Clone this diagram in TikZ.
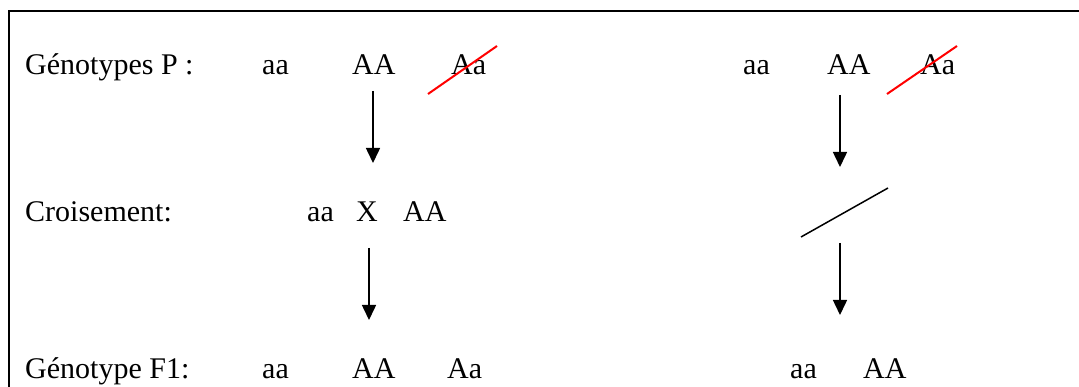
\documentclass[tikz,border=0pt]{standalone}
\usepackage{fontspec}
\setmainfont{Liberation Serif}
\usetikzlibrary{arrows.meta}
\begin{document}
\begin{tikzpicture}[x=1pt,y=-1pt,
  txt/.style={anchor=base west,inner sep=0pt,font=\fontsize{30}{36}\selectfont},
  arr/.style={line width=1.5pt,-{Triangle[length=15pt,width=14pt]}},
  strike/.style={red,line width=2pt},
  slash/.style={line width=1.5pt}]
\useasboundingbox (0,0) rectangle (1079,387);
% frame
\coordinate (fb) at (9,387);
\coordinate (fc) at (9,11);
\coordinate (fr) at (1079,11);
\draw[line width=2pt] (fb) -- (fc) -- (fr);
% row 1
\node[txt] (gp) at (25,75) {Génotypes P :};
\node[txt] (p1aa) at (262,75) {aa};
\node[txt] (p1AA) at (352,75) {AA};
\node[txt] (p1Aa) at (451,75) {Aa};
\node[txt] (p2aa) at (743,75) {aa};
\node[txt] (p2AA) at (827,75) {AA};
\node[txt] (p2Aa) at (920,75) {Aa};
% row 2
\node[txt] (cr) at (25,222) {Croisement:};
\node[txt] (caa) at (307,222) {aa};
\node[txt] (cX) at (356,222) {X};
\node[txt] (cAA) at (403,222) {AA};
% row 3
\node[txt] (gf) at (25,378) {Génotype F1:};
\node[txt] (f1aa) at (262,378) {aa};
\node[txt] (f1AA) at (352,378) {AA};
\node[txt] (f1Aa) at (447,378) {Aa};
\node[txt] (f2aa) at (790,378) {aa};
\node[txt] (f2AA) at (863,378) {AA};
% strike-throughs
\coordinate (s1a) at (428,94); \coordinate (s1b) at (497,46);
\coordinate (s2a) at (887,94); \coordinate (s2b) at (957,46);
\draw[strike] (s1a) -- (s1b);
\draw[strike] (s2a) -- (s2b);
% slash
\coordinate (sla) at (888,188); \coordinate (slb) at (801,237);
\draw[slash] (sla) -- (slb);
% arrows
\coordinate (a1s) at (373,91); \coordinate (a1e) at (373,163);
\coordinate (a2s) at (369,248); \coordinate (a2e) at (369,320);
\coordinate (a3s) at (840,95); \coordinate (a3e) at (840,167);
\coordinate (a4s) at (840,243); \coordinate (a4e) at (840,315);
\draw[arr] (a1s) -- (a1e);
\draw[arr] (a2s) -- (a2e);
\draw[arr] (a3s) -- (a3e);
\draw[arr] (a4s) -- (a4e);
\end{tikzpicture}
\end{document}
